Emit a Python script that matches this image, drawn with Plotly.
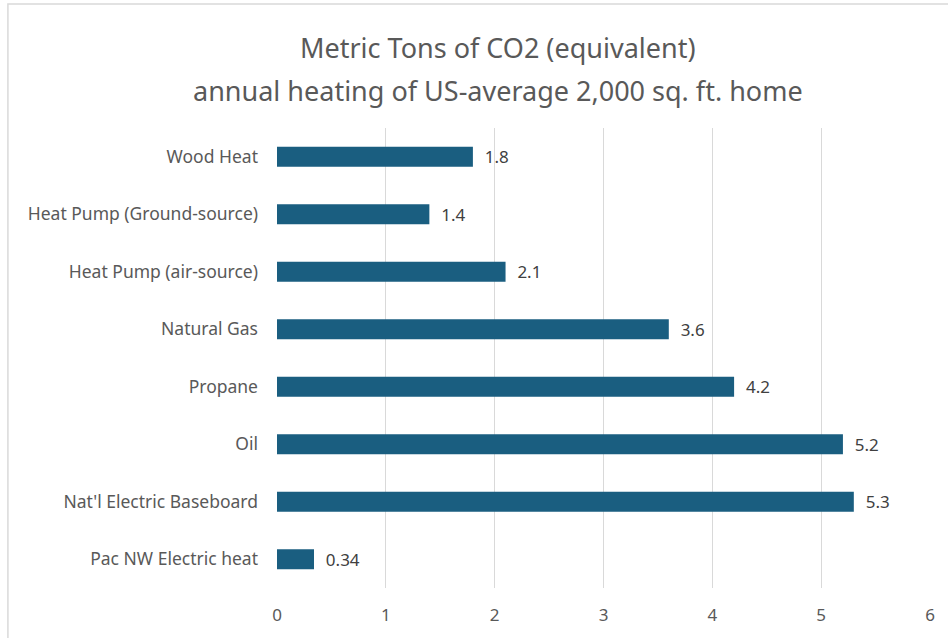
import plotly.graph_objects as go

categories = ["Wood Heat", "Heat Pump (Ground-source)", "Heat Pump (air-source)",
              "Natural Gas", "Propane", "Oil", "Nat'l Electric Baseboard",
              "Pac NW Electric heat"]
values = [1.8, 1.4, 2.1, 3.6, 4.2, 5.2, 5.3, 0.34]
value_labels = ["1.8", "1.4", "2.1", "3.6", "4.2", "5.2", "5.3", "0.34"]
x_ticks = [0, 1, 2, 3, 4, 5, 6]
title_lines = ["Metric Tons of CO2 (equivalent)",
               "annual heating of US-average 2,000 sq. ft. home"]

W, H = 948, 638
L, R, T, B = 276.5, 17.5, 128, 50
pw, ph = W - L - R, H - T - B
FONT = "Noto Sans"

fig = go.Figure(go.Bar(
    y=categories, x=values, orientation="h",
    marker=dict(color="#1A5E80", line=dict(width=0)),
    width=0.35,
    text=["  " + s for s in value_labels],
    textposition="outside",
    constraintext="none",
    textfont=dict(family=FONT, size=17, color="#404040"),
    cliponaxis=False,
))

fig.update_layout(
    width=W, height=H,
    margin=dict(l=L, r=R, t=T, b=B),
    paper_bgcolor="white", plot_bgcolor="white",
    showlegend=False,
    font=dict(family=FONT, color="#595959"),
    xaxis=dict(range=[0, 6], tickvals=x_ticks, showgrid=True,
               gridcolor="#D9D9D9", gridwidth=1, zeroline=False,
               showline=False, ticks="", ticklabelstandoff=15,
               tickfont=dict(family=FONT, size=17, color="#595959")),
    yaxis=dict(autorange="reversed", showgrid=False, zeroline=False,
               showline=False, ticks="", ticklabelstandoff=18,
               tickfont=dict(family=FONT, size=17.5, color="#595959")),
    bargap=0.65,
)

# title lines
for txt, yc in zip(title_lines, [47, 90]):
    fig.add_annotation(text=txt, xref="paper", yref="paper",
                       x=(497.5 - L) / pw, y=(H - B - yc) / ph,
                       xanchor="center", yanchor="middle", showarrow=False,
                       font=dict(family=FONT, size=27, color="#595959"))

# chart border
fig.add_shape(type="rect", xref="paper", yref="paper",
              x0=(7 - L) / pw, x1=(W + 5 - L) / pw,
              y0=(H - B - (H + 5)) / ph, y1=(H - B - 4) / ph,
              line=dict(color="#D9D9D9", width=1.5), layer="below")

fig.write_html("out.html")
